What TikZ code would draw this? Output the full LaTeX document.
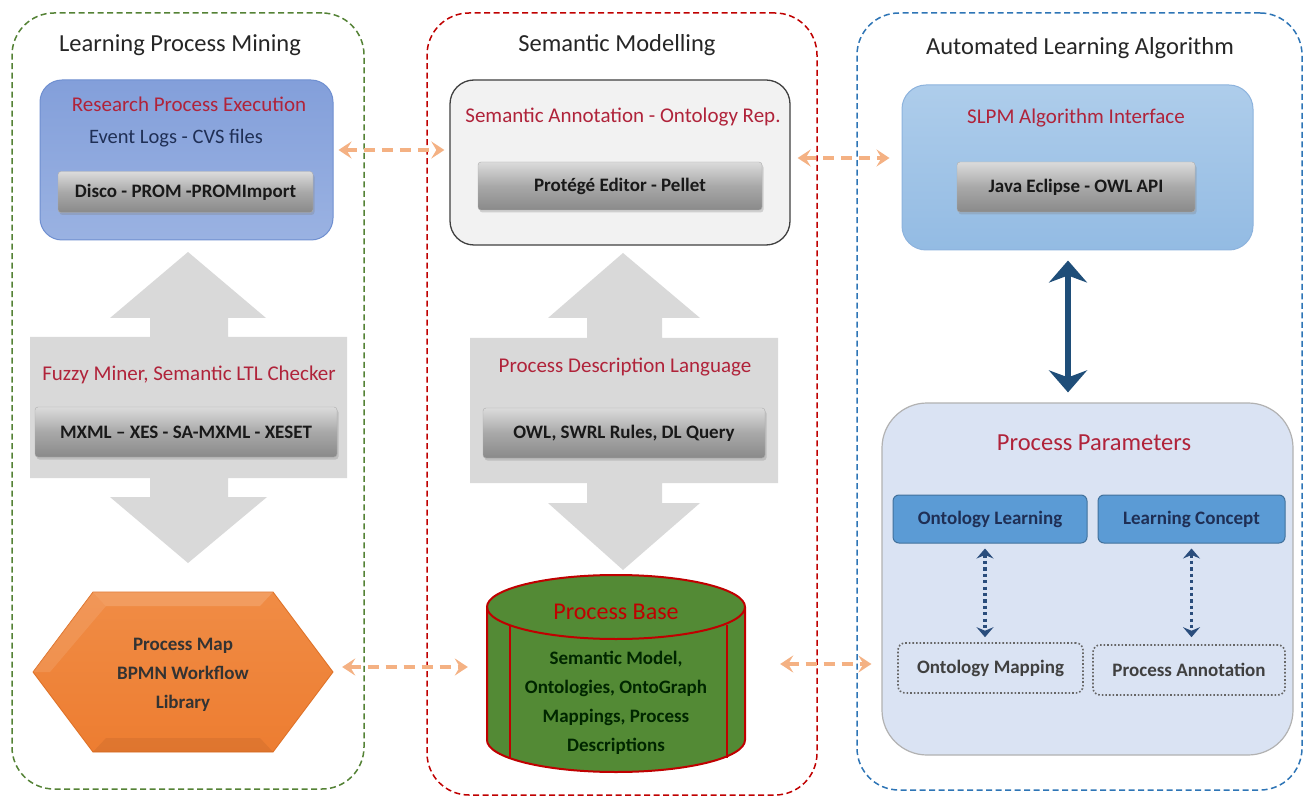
\documentclass[tikz,border=0pt]{standalone}
\usepackage{fontspec}
\setmainfont{Carlito}
\usetikzlibrary{arrows.meta,shadows}
\definecolor{pgreen}{HTML}{548235}
\definecolor{pred}{HTML}{C00000}
\definecolor{pblue}{HTML}{2E75B6}
\definecolor{lblred}{HTML}{B0233A}
\definecolor{navy}{HTML}{1F2F55}
\definecolor{ornge}{HTML}{F4B183}
\definecolor{dblue}{HTML}{1F4E79}
\definecolor{bgray}{HTML}{D9D9D9}
\definecolor{cylgreen}{HTML}{538A35}
\definecolor{cylred}{HTML}{C00000}
\definecolor{ppfill}{HTML}{DAE3F3}
\definecolor{olfill}{HTML}{5B9BD5}
\definecolor{olline}{HTML}{41719C}
\definecolor{rpetop}{HTML}{839FDA}
\definecolor{rpebot}{HTML}{9AB2E2}
\definecolor{rpeline}{HTML}{6F8FD0}
\definecolor{slpmtop}{HTML}{AECDEB}
\definecolor{slpmbot}{HTML}{93BBE3}
\definecolor{slpmline}{HTML}{8DB3DD}
\definecolor{hexfill}{HTML}{ED7D31}
\definecolor{hextop}{HTML}{F08C45}
\definecolor{hexline}{HTML}{DD6E22}
\definecolor{dotblue}{HTML}{2A4D7C}
\begin{document}
\begin{tikzpicture}[x=1pt,y=-1pt,
  panelbox/.style={dash pattern=on 6pt off 3.5pt, line width=1.5pt, rounded corners=42pt, inner sep=0pt},
  titletext/.style={font=\fontsize{24.5}{28}\selectfont, text=black!85},
  redlbl/.style={font=\fontsize{21}{25}\selectfont, text=lblred},
  btn/.style={draw=black!32, rounded corners=3pt, top color=black!14, bottom color=black!46,
    middle color=black!34, drop shadow={opacity=0.3, shadow xshift=1.5pt, shadow yshift=-2.5pt},
    font=\bfseries\fontsize{19}{23}\selectfont, text=black!90, inner sep=0pt},
  bigarrow/.style={fill=bgray},
  oarrow/.style={draw=ornge, line width=4pt, dash pattern=on 11pt off 7pt,
    {Stealth[length=13pt,width=17pt,inset=5pt]}-{Stealth[length=13pt,width=17pt,inset=5pt]}},
  barrow/.style={draw=dblue, line width=6pt,
    {Stealth[length=22pt,width=38pt,inset=7pt]}-{Stealth[length=22pt,width=38pt,inset=7pt]}},
  darrow/.style={draw=dotblue, line width=3.2pt, dash pattern=on 3.2pt off 3.2pt,
    {Stealth[length=10pt,width=17pt,inset=3.5pt]}-{Stealth[length=10pt,width=17pt,inset=3.5pt]}},
  bodytext/.style={font=\bfseries\fontsize{19}{29}\selectfont, align=center},
  blubox/.style={draw=olline, fill=olfill, line width=1pt, rounded corners=6pt, inner sep=0pt,
    font=\bfseries\fontsize{19}{23}\selectfont, text=navy},
  dotbox/.style={draw=black!60, line width=1.6pt, dash pattern=on 1.6pt off 2pt, rounded corners=7pt, inner sep=0pt,
    font=\bfseries\fontsize{19}{23}\selectfont, text=black!75}
]
\useasboundingbox (0,0) rectangle (1306,799);
\fill[white] (0,0) rectangle (1306,799);

% three column panels
\node[panelbox, draw=pgreen, minimum width=352pt, minimum height=776pt] (lpm) at (188,401) {};
\node[panelbox, draw=pred, minimum width=390pt, minimum height=782pt] (sm) at (622,404) {};
\node[panelbox, draw=pblue, minimum width=445pt, minimum height=777pt] (ala) at (1079.5,401.5) {};

\node[titletext] at (180,45) {Learning Process Mining};
\node[titletext] at (617,45) {Semantic Modelling};
\node[titletext] at (1080,48) {Automated Learning Algorithm};

% big grey double arrows
\path[bigarrow] (188,252) -- (266,318) -- (228,318) -- (228,337) -- (347,337) -- (347,478)
  -- (228,478) -- (228,497) -- (267,497) -- (188,563) -- (110,497) -- (150,497) -- (150,478)
  -- (30,478) -- (30,337) -- (150,337) -- (150,318) -- (110,318) -- cycle;
\path[bigarrow] (623,253) -- (700,318) -- (662,318) -- (662,338) -- (778,338) -- (778,483)
  -- (662,483) -- (662,503) -- (700,503) -- (623,570) -- (548,503) -- (587,503) -- (587,483)
  -- (470,483) -- (470,338) -- (587,338) -- (587,318) -- (548,318) -- cycle;

% top row boxes
\node[draw=rpeline, line width=1pt, rounded corners=22pt, top color=rpetop, bottom color=rpebot,
  minimum width=293pt, minimum height=160pt, inner sep=0pt] (rpe) at (186.5,160) {};
\node[draw=black!75, line width=1.3pt, rounded corners=24pt, fill=black!5,
  minimum width=340pt, minimum height=165pt, inner sep=0pt] (sa) at (620,162.5) {};
\node[draw=slpmline, line width=1pt, rounded corners=24pt, top color=slpmtop, bottom color=slpmbot,
  minimum width=351pt, minimum height=165pt, inner sep=0pt] (slpm) at (1077.5,167.5) {};

\node[redlbl] at (189,104) {Research Process Execution};
\node[font=\fontsize{20.5}{24}\selectfont, text=navy] at (176,138) {Event Logs - CVS files};
\node[btn, minimum width=255pt, minimum height=41pt] (b1) at (185.5,192) {Disco - PROM -PROMImport};

\node[redlbl] at (623,117) {Semantic Annotation - Ontology Rep.};
\node[btn, minimum width=284pt, minimum height=48pt] (b2) at (620,186) {Protégé Editor - Pellet};

\node[redlbl] at (1076,118) {SLPM Algorithm Interface};
\node[btn, minimum width=238pt, minimum height=50pt] (b3) at (1076,187) {Java Eclipse - OWL API};

% middle row labels
\node[redlbl] at (189,375) {Fuzzy Miner, Semantic LTL Checker};
\node[btn, minimum width=302pt, minimum height=50pt] (b4) at (186,432) {MXML -- XES - SA-MXML - XESET};
\node[redlbl] at (625,367) {Process Description Language};
\node[btn, minimum width=282pt, minimum height=50pt] (b5) at (624,433) {OWL, SWRL Rules, DL Query};

% hexagon: process map
\node[minimum width=300pt, minimum height=160pt, inner sep=0pt] (hex) at (183,672) {};
\path[top color=hextop, bottom color=hexfill, draw=hexline, line width=0.8pt]
  (33,672) -- (93,592) -- (273,592) -- (333,672) -- (273,752) -- (93,752) -- cycle;
\path[fill=white, opacity=0.15] (93,592) -- (273,592) -- (260,606) -- (106,606) -- cycle;
\path[fill=white, opacity=0.10] (33,672) -- (93,592) -- (106,606) -- (50,672) -- cycle;
\path[fill=black, opacity=0.06] (93,752) -- (273,752) -- (260,738) -- (106,738) -- cycle;
\node[bodytext, text=black!80] at (183,675) {Process Map\\BPMN Workflow\\Library};

% cylinder: process base
\node[minimum width=258pt, minimum height=197pt, inner sep=0pt] (pb) at (616,673.5) {};
\path[draw=cylred, line width=2pt, fill=cylgreen] (487,607) -- (487,740)
  arc[start angle=180, end angle=360, x radius=129pt, y radius=32pt] -- (745,607)
  arc[start angle=0, end angle=180, x radius=129pt, y radius=32pt] -- cycle;
\draw[cylred, line width=2pt] (487,607) arc[start angle=180, end angle=360, x radius=129pt, y radius=32pt];
\draw[cylred, line width=2pt] (510,625) -- (510,758);
\draw[cylred, line width=2pt] (727,625) -- (727,758);
\node[font=\fontsize{24}{28}\selectfont, text=pred] at (616,612) {Process Base};
\node[bodytext, text=black!85!green] at (616,703) {Semantic Model,\\Ontologies, OntoGraph\\Mappings, Process\\Descriptions};

% process parameters panel
\node[draw=black!30, line width=1.2pt, fill=ppfill, rounded corners=45pt,
  minimum width=411pt, minimum height=352pt, inner sep=0pt] (pp) at (1087.5,579) {};
\node[font=\fontsize{24.5}{28}\selectfont, text=lblred] at (1094,443) {Process Parameters};
\node[blubox, minimum width=194pt, minimum height=48pt] (ol) at (990,519) {Ontology Learning};
\node[blubox, minimum width=187pt, minimum height=48pt] (lc) at (1191.5,519) {Learning Concept};
\node[dotbox, minimum width=185pt, minimum height=50pt] (om) at (990.5,668) {Ontology Mapping};
\node[dotbox, minimum width=192pt, minimum height=50pt] (pa) at (1189,670) {Process Annotation};

\draw[darrow, shorten <=5pt, shorten >=5pt] ([xshift=-5pt]ol.south) -- ([xshift=-5pt]ol.south |- om.north);
\draw[darrow, shorten <=5pt, shorten >=7pt] (lc.south) -- (lc.south |- pa.north);

% connectors between columns
\draw[oarrow, shorten <=5pt, shorten >=5pt] ([yshift=10pt]rpe.east) -- ([yshift=10pt]rpe.east -| sa.west);
\draw[oarrow, shorten <=7pt, shorten >=12pt] ([yshift=4.5pt]sa.east) -- ([yshift=4.5pt]sa.east -| slpm.west);
\draw[oarrow, shorten <=9pt, shorten >=19pt] ([yshift=5pt]hex.east) -- ([yshift=5pt]hex.east -| pb.west);
\draw[oarrow, shorten <=35pt, shorten >=10pt] ([yshift=9.5pt]pb.east) -- ([yshift=9.5pt]pb.east -| pp.west);
\draw[barrow, shorten <=10pt, shorten >=10pt] ([xshift=-9.5pt]slpm.south) -- ([xshift=-9.5pt]slpm.south |- pp.north);
\end{tikzpicture}
\end{document}
